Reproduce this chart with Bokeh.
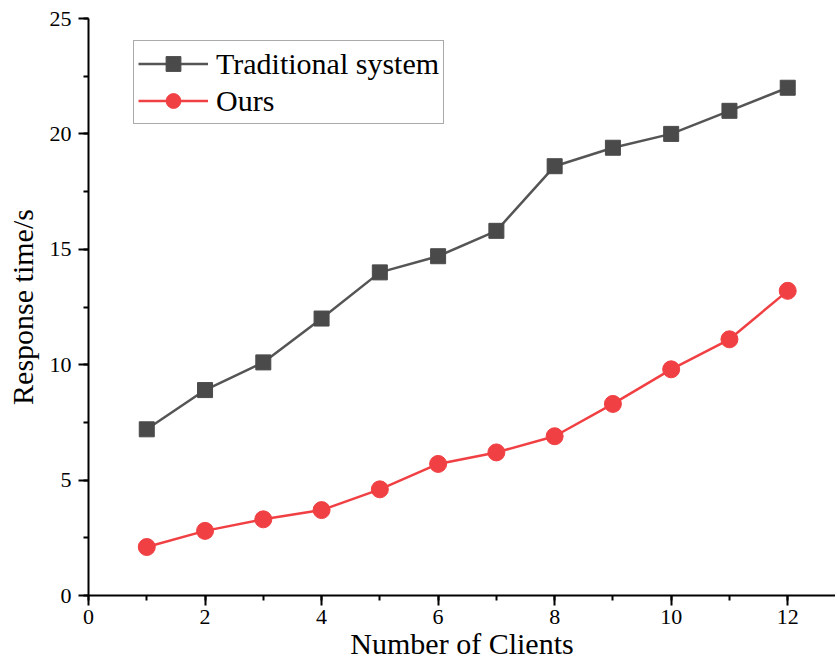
from bokeh.plotting import figure
from bokeh.models import SingleIntervalTicker, Range1d, Legend, LegendItem
from bokeh.embed import file_html
from bokeh.resources import INLINE

clients = [1, 2, 3, 4, 5, 6, 7, 8, 9, 10, 11, 12]
traditional = [7.2, 8.9, 10.1, 12.0, 14.0, 14.7, 15.8, 18.6, 19.4, 20.0, 21.0, 22.0]
ours = [2.1, 2.8, 3.3, 3.7, 4.6, 5.7, 6.2, 6.9, 8.3, 9.8, 11.1, 13.2]
x_title = "Number of Clients"
y_title = "Response time/s"
series_names = ["Traditional system", "Ours"]

FONT = "Liberation Serif"

p = figure(width=835, height=667, output_backend="svg", toolbar_location=None,
           x_range=Range1d(0, 12.82), y_range=Range1d(0, 25),
           min_border_left=88, min_border_top=18, min_border_right=0, min_border_bottom=72)
p.outline_line_color = None
p.xgrid.visible = False
p.ygrid.visible = False

gray_line = "#555555"
gray = "#4a4a4a"
red = "#f04043"
l1 = p.line(clients, traditional, line_color=gray_line, line_width=2.5)
m1 = p.scatter(clients, traditional, marker="square", size=15, fill_color=gray, line_color=gray)
l2 = p.line(clients, ours, line_color=red, line_width=2.5)
m2 = p.scatter(clients, ours, marker="circle", size=17, fill_color=red, line_color=red)

for ax in (p.xaxis[0], p.yaxis[0]):
    ax.axis_line_width = 2
    ax.axis_line_color = "black"
    ax.major_tick_line_width = 2
    ax.minor_tick_line_width = 2
    ax.major_tick_out = 10
    ax.major_tick_in = 0
    ax.minor_tick_out = 5
    ax.minor_tick_in = 0
    ax.major_label_text_font = FONT
    ax.major_label_text_font_size = "22px"
    ax.major_label_text_color = "black"
    ax.axis_label_text_font = FONT
    ax.axis_label_text_font_size = "30px"
    ax.axis_label_text_font_style = "normal"
    ax.axis_label_text_color = "black"

p.xaxis.ticker = SingleIntervalTicker(interval=2, num_minor_ticks=2)
p.yaxis.ticker = SingleIntervalTicker(interval=5, num_minor_ticks=2)
p.xaxis.axis_label = x_title
p.yaxis.axis_label = y_title
p.xaxis.major_label_standoff = 4
p.yaxis.major_label_standoff = 7
p.xaxis.axis_label_standoff = 0
p.yaxis.axis_label_standoff = 8

legend = Legend(items=[LegendItem(label=series_names[0], renderers=[l1, m1]),
                       LegendItem(label=series_names[1], renderers=[l2, m2])],
                location=(45, 471))
legend.label_text_font = FONT
legend.label_text_font_size = "30px"
legend.label_text_color = "black"
legend.border_line_color = "#555555"
legend.border_line_width = 1.2
legend.glyph_width = 70
legend.glyph_height = 37
legend.label_height = 37
legend.label_standoff = 8
legend.padding = 4
legend.spacing = 0
legend.margin = 0
legend.background_fill_alpha = 1
p.add_layout(legend, "center")

open("out.html", "w").write(file_html(p, INLINE))
